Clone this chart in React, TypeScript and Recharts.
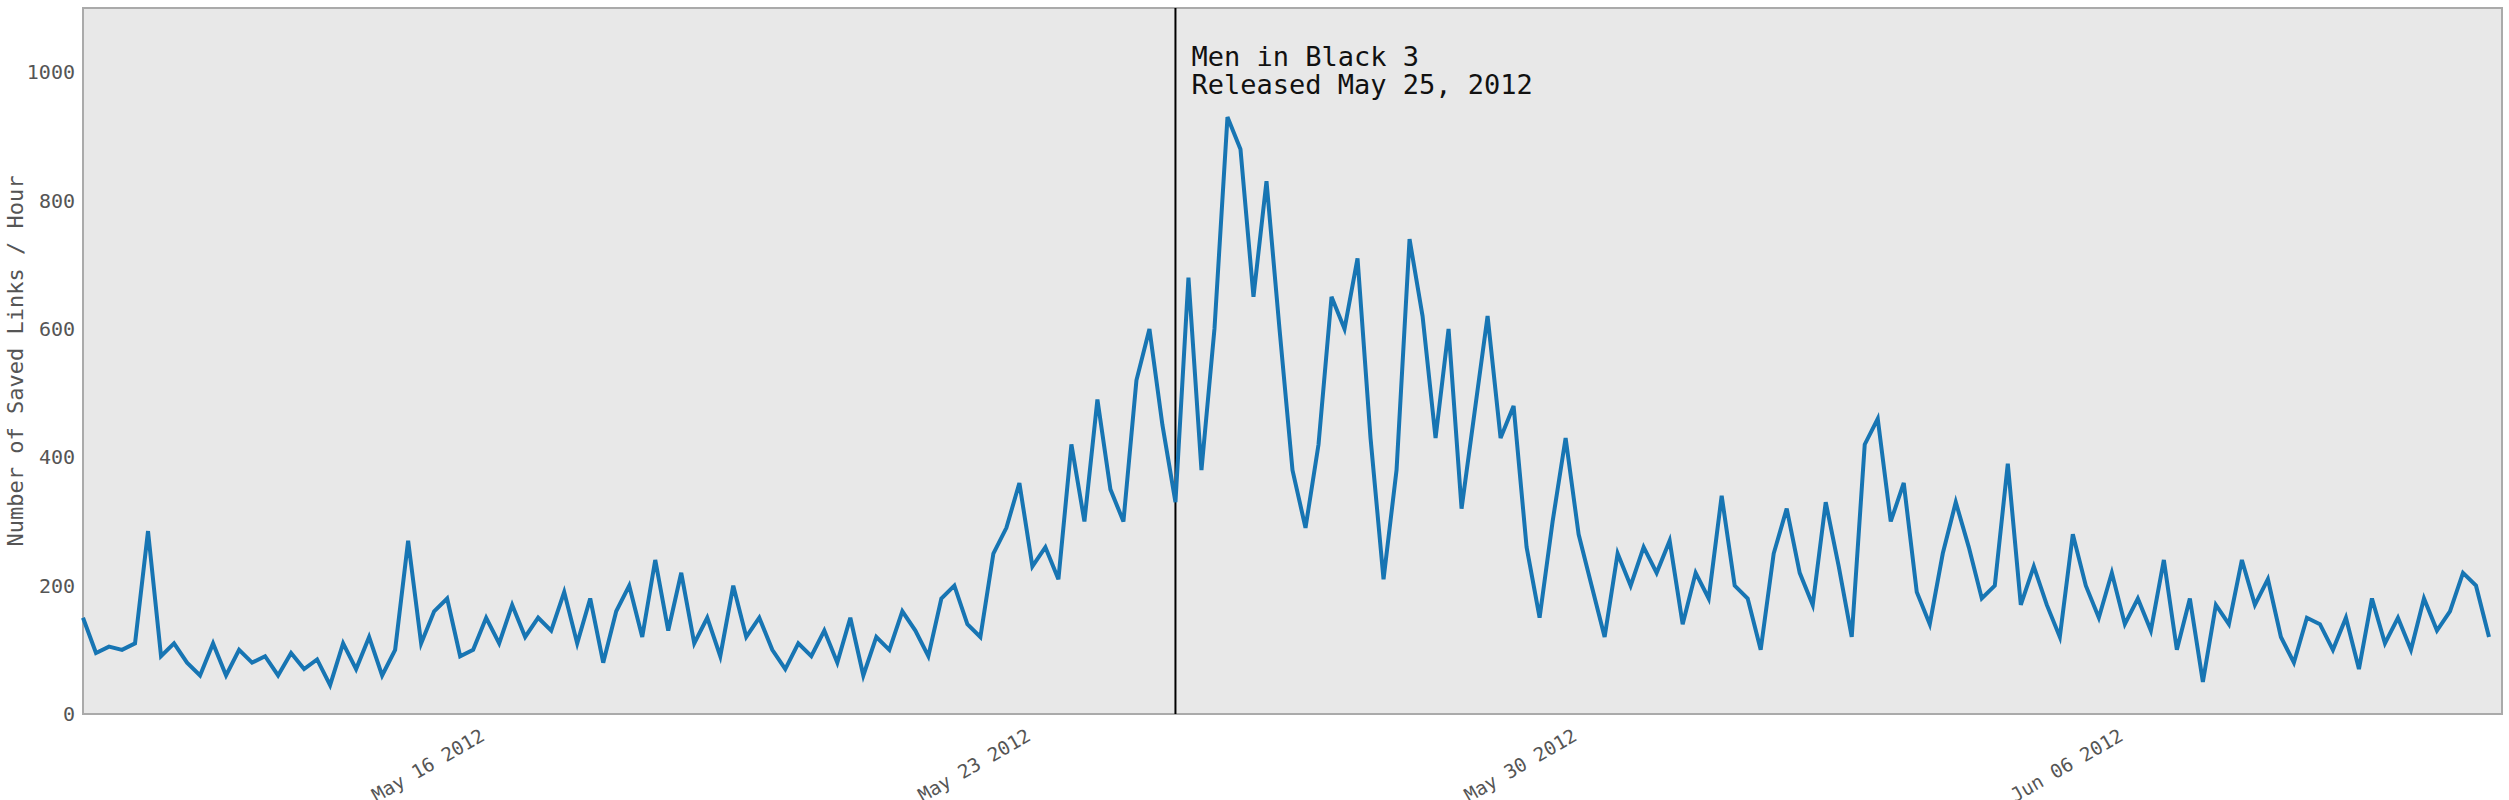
import { LineChart, Line, XAxis, YAxis, CartesianGrid, ReferenceLine } from 'recharts';

// one value per 4 hours, starting May 11 2012 00:00
const may11to15 = [
  150, 95, 105, 100, 110, 285,
  90, 110, 80, 60, 110, 60,
  100, 80, 90, 60, 95, 70,
  85, 45, 110, 70, 120, 60,
  100, 270, 110, 160, 180, 90,
];
const may16to20 = [
  100, 150, 110, 170, 120, 150,
  130, 190, 110, 180, 80, 160,
  200, 120, 240, 130, 220, 110,
  150, 90, 200, 120, 150, 100,
  70, 110, 90, 130, 80, 150,
];
const may21to25 = [
  60, 120, 100, 160, 130, 90,
  180, 200, 140, 120, 250, 290,
  360, 230, 260, 210, 420, 300,
  490, 350, 300, 520, 600, 450,
  330, 680, 380, 600, 930, 880,
];
const may26to30 = [
  650, 830, 600, 380, 290, 420,
  650, 600, 710, 430, 210, 380,
  740, 620, 430, 600, 320, 470,
  620, 430, 480, 260, 150, 300,
  430, 280, 200, 120, 250, 200,
];
const may31toJun4 = [
  260, 220, 270, 140, 220, 180,
  340, 200, 180, 100, 250, 320,
  220, 170, 330, 230, 120, 420,
  460, 300, 360, 190, 140, 250,
  330, 260, 180, 200, 390, 170,
];
const jun5to10 = [
  230, 170, 120, 280, 200, 150,
  220, 140, 180, 130, 240, 100,
  180, 50, 170, 140, 240, 170,
  210, 120, 80, 150, 140, 100,
  150, 70, 180, 110, 150, 100,
  180, 130, 160, 220, 200, 120,
];
const values = [...may11to15, ...may16to20, ...may21to25, ...may26to30, ...may31toJun4, ...jun5to10];
const STEP = 4;
const data = values.map((v, i) => ({ hour: i * STEP, links: v }));

const xTicks = [120, 288, 456, 624];
const xTickLabels = ['May 16 2012', 'May 23 2012', 'May 30 2012', 'Jun 06 2012'];
const yTicks = [0, 200, 400, 600, 800, 1000];
const releaseHour = 336;
const releaseText = ['Men in Black 3', 'Released May 25, 2012'];

const FONT = 'DejaVu Sans Mono, monospace';

const XTick = ({ x, y, payload }: any) => {
  const label = xTickLabels[xTicks.indexOf(payload.value)] ?? '';
  return (
    <text x={x + 6} y={y + 6} dy="0.7em" transform={`rotate(-30 ${x + 6} ${y + 6})`} textAnchor="end" fill="#555" fontSize={19} fontFamily={FONT}>
      {label}
    </text>
  );
};

const ReleaseLabel = ({ viewBox }: any) => (
  <text x={viewBox.x + 16} fontSize={27} fontFamily={FONT} fill="#111">
    {releaseText.map((t, i) => (
      <tspan key={i} x={viewBox.x + 16} y={viewBox.y + 58 + i * 28}>{t}</tspan>
    ))}
  </text>
);

export default function App() {
  return (
    <div style={{ position: 'fixed', left: 0, top: 0, background: '#fff' }}>
      <LineChart width={2509} height={800} data={data} margin={{ top: 8, right: 7, left: 10, bottom: 0 }}>
        <rect x={83} y={8} width={2419} height={706} fill="#e8e8e8" stroke="#aaa" strokeWidth={2} />
        <CartesianGrid
          stroke="#999"
          strokeDasharray="2 5"
          strokeWidth={1.5}
          fill="none"
          horizontalValues={[200, 400, 600, 800, 1000]}
          verticalValues={xTicks}
        />
        <XAxis
          type="number"
          dataKey="hour"
          domain={[0, 744]}
          ticks={xTicks}
          tick={<XTick />}
          axisLine={false}
          tickLine={false}
          height={86}
        />
        <YAxis
          domain={[0, 1100]}
          ticks={yTicks}
          axisLine={false}
          tickLine={false}
          width={73}
          tick={{ fill: '#555', fontSize: 20, fontFamily: FONT }}
          label={{ value: 'Number of Saved Links / Hour', angle: -90, position: 'insideLeft', offset: 5, style: { fill: '#555', fontSize: 22, fontFamily: FONT, textAnchor: 'middle' } }}
        />
        <ReferenceLine x={releaseHour} stroke="#000" strokeWidth={2} label={<ReleaseLabel />} />
        <Line type="linear" dataKey="links" stroke="#1775b3" strokeWidth={4} dot={false} isAnimationActive={false} />
      </LineChart>
    </div>
  );
}
